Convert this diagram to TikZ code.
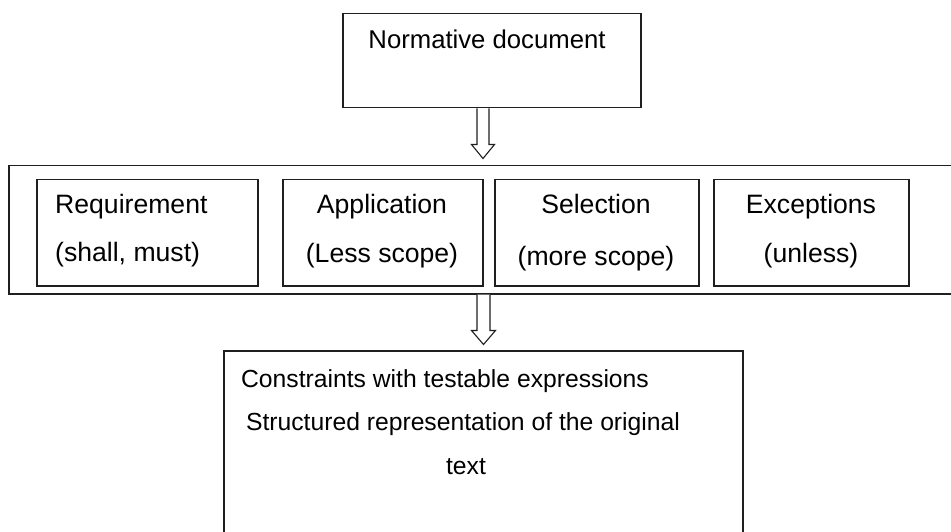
\documentclass[tikz,border=0pt]{standalone}
\usepackage{fontspec}
\setmainfont{Liberation Sans}
\usetikzlibrary{calc}
\begin{document}
\begin{tikzpicture}[x=1pt,y=-1pt,
  box/.style={draw=black!88, line width=1.5pt, rectangle, inner sep=0pt, anchor=north west},
  txt/.style={anchor=base, inner sep=0pt, font=\fontsize{26.6}{30}\selectfont},
  txtl/.style={anchor=base west, inner sep=0pt, font=\fontsize{26.6}{30}\selectfont},
  txtb/.style={anchor=base, inner sep=0pt, font=\fontsize{24.7}{28}\selectfont},
  blockarrow/.style={draw=black!88, line width=1.1pt, fill=white, line join=miter}]
\useasboundingbox (0,0) rectangle (951,532);
\clip (0,0) rectangle (951,532);

% source document
\node[box, minimum width=298pt, minimum height=94pt] (doc) at (342,13) {};
\node[anchor=base, inner sep=0pt, font=\fontsize{25.7}{28}\selectfont] (doct) at (487,49) {Normative document};

% band of clause categories
\node[box, minimum width=980pt, minimum height=128pt] (band) at (8,165) {};
\node[box, minimum width=221pt, minimum height=106pt] (req) at (36,179) {};
\node[box, minimum width=200pt, minimum height=106pt] (app) at (282,179) {};
\node[box, minimum width=204pt, minimum height=106pt] (sel) at (494,179) {};
\node[box, minimum width=195pt, minimum height=106pt] (exc) at (713,179) {};

\node[txtl] (req1) at (55,214) {Requirement};
\node[txtl] (req2) at (55,261) {(shall, must)};
\node[txt] (app1) at (382,214) {Application};
\node[txt] (app2) at (382,262) {(Less scope)};
\node[txt] (sel1) at (596,214) {Selection};
\node[txt] (sel2) at (596,265) {(more scope)};
\node[txt] (exc1) at (811,214) {Exceptions};
\node[txt] (exc2) at (811,262) {(unless)};

% result
\node[box, minimum width=519pt, minimum height=230pt] (res) at (223,350) {};
\node[txtb] (res1) at (445,387) {Constraints with testable expressions};
\node[txtb] (res2) at (463,430) {Structured representation of the original};
\node[txtb] (res3) at (466,474) {text};

% hollow block arrows between the stages
\coordinate (a1) at (doc.south -| 483,0);
\coordinate (a2) at (band.south -| 483.5,0);
\draw[blockarrow] ($(a1)+(-6,0)$) -- ++(0,36) -- ++(-5.5,0) -- ($(a1)+(0,50)$)
  -- ($(a1)+(11.5,36)$) -- ++(-5.5,0) -- ($(a1)+(6,0)$);
\draw[blockarrow] ($(a2)+(-6.5,0)$) -- ++(0,36) -- ++(-5.5,0) -- ($(a2)+(0,50)$)
  -- ($(a2)+(12,36)$) -- ++(-5.5,0) -- ($(a2)+(6.5,0)$);
\end{tikzpicture}
\end{document}
